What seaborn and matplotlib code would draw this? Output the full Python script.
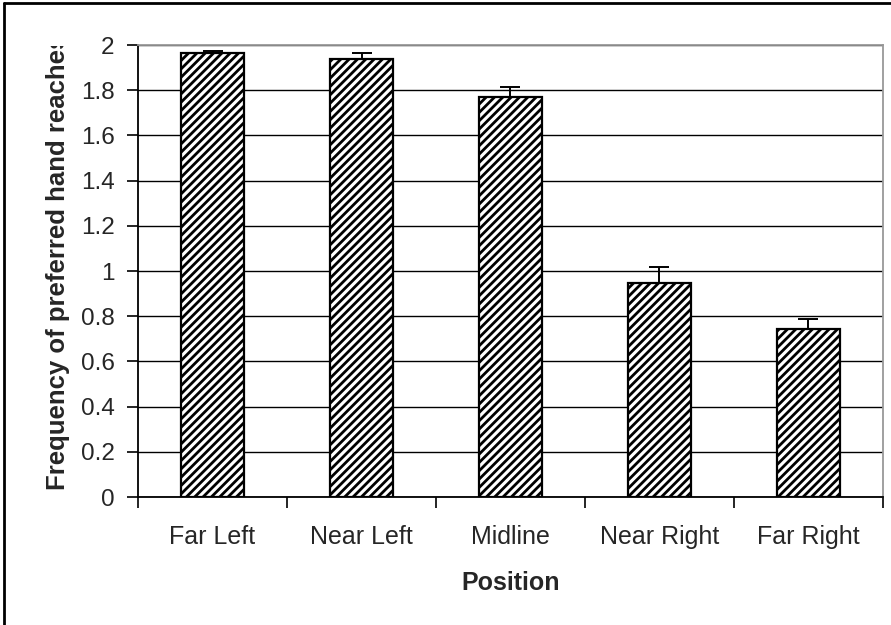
import matplotlib
matplotlib.use("Agg")
import matplotlib.pyplot as plt
import seaborn as sns
import pandas as pd
from matplotlib.transforms import Bbox, TransformedBbox
from matplotlib.lines import Line2D

positions = ["Far Left", "Near Left", "Midline", "Near Right", "Far Right"]
frequency = [1.965, 1.938, 1.77, 0.947, 0.743]
sem = [0.007, 0.025, 0.042, 0.071, 0.046]
yticks = [0, 0.2, 0.4, 0.6, 0.8, 1, 1.2, 1.4, 1.6, 1.8, 2]
ytick_labels = ["0", "0.2", "0.4", "0.6", "0.8", "1", "1.2", "1.4", "1.6", "1.8", "2"]

sns.set_style("white")
plt.rcParams["font.family"] = ["Liberation Sans", "DejaVu Sans"]
plt.rcParams["hatch.linewidth"] = 2.0
plt.rcParams["hatch.color"] = "black"

df = pd.DataFrame({"Position": positions, "Frequency": frequency})

fig = plt.figure(figsize=(8.91, 6.25), dpi=100)
ax = fig.add_axes([138 / 891, 1 - 497 / 625, (883 - 138) / 891, (497 - 45) / 625])

sns.barplot(data=df, x="Position", y="Frequency", order=positions, ax=ax,
            color="white", edgecolor="black", linewidth=1.6, hatch="////",
            width=0.42, errorbar=None, zorder=3)
ax.errorbar(range(len(positions)), frequency, yerr=[[0] * len(sem), sem],
            fmt="none", ecolor="black", elinewidth=1.4, capsize=7, capthick=1.4, zorder=4)

ax.set_xlim(-0.5, 4.5)
ax.set_ylim(0, 2)
ax.set_yticks(yticks)
ax.set_yticklabels(ytick_labels)
ax.yaxis.grid(True, color="black", linewidth=1.0, zorder=0)
ax.set_axisbelow(True)

# category tick marks sit between the bars, like the spreadsheet chart
ax.set_xticks([i - 0.5 for i in range(len(positions) + 1)], minor=True)
ax.tick_params(axis="x", which="minor", length=8, width=1.2, color="black", direction="out")
ax.tick_params(axis="x", which="major", length=0, pad=20, labelsize=18)
ax.tick_params(axis="y", length=8, width=1.2, color="black", direction="out", pad=9, labelsize=17.5)
ax.xaxis.set_ticks_position("bottom")
ax.yaxis.set_ticks_position("left")

for side in ["left", "bottom"]:
    ax.spines[side].set_color("black")
    ax.spines[side].set_linewidth(1.3)
for side in ["top", "right"]:
    ax.spines[side].set_color("#999999")
    ax.spines[side].set_linewidth(1.3)

ax.set_xlabel("Position", fontsize=18, fontweight="bold", labelpad=16)
ax.set_ylabel("")

# y label overflows the chart area at the top, so it is clipped there
ylab = fig.text(46 / 891, 1 - 262 / 625, "Frequency of preferred hand reaches",
                rotation=90, ha="left", va="center", fontsize=18.5, fontweight="bold")
ylab.set_clip_box(TransformedBbox(Bbox([[0, 0], [1, 1 - 46 / 625]]), fig.transFigure))
ylab.set_clip_on(True)

# outer chart frame
fig.add_artist(Line2D([4 / 891, 4 / 891], [0, 1 - 3 / 625], transform=fig.transFigure,
                      color="black", linewidth=2))
fig.add_artist(Line2D([4 / 891, 1], [1 - 3 / 625, 1 - 3 / 625], transform=fig.transFigure,
                      color="black", linewidth=2))

fig.savefig("out.png", dpi=100)
